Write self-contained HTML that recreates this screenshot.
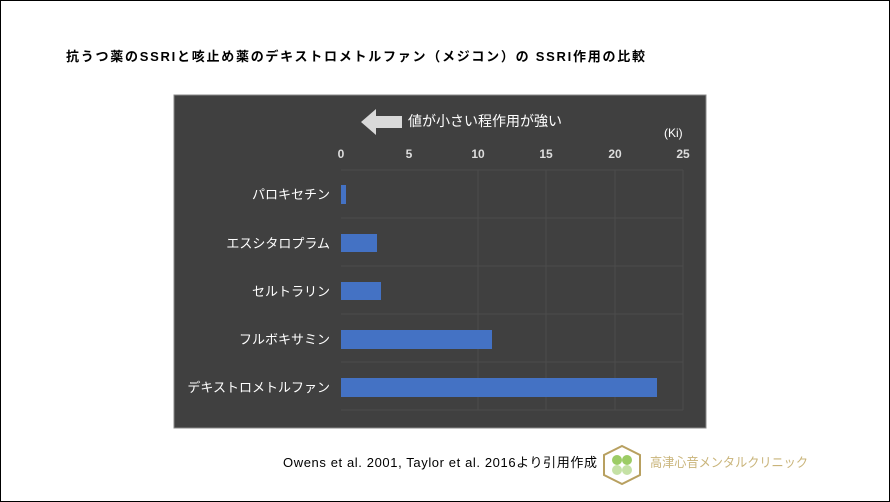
<!DOCTYPE html>
<html><head><meta charset="utf-8"><style>
body{margin:0;width:890px;height:502px;background:#fff;font-family:"Liberation Sans","Noto Sans CJK JP",sans-serif;overflow:hidden}
.frame{position:absolute;left:0;top:0;width:888px;height:500px;border:1px solid #000}
</style></head><body>
<div class="frame"></div>
<svg width="890" height="502" style="position:absolute;left:0;top:0" font-family="Liberation Sans, Noto Sans CJK JP, sans-serif">
<text x="66" y="61" font-size="13" font-weight="bold" fill="#000" textLength="579" lengthAdjust="spacing">抗うつ薬のSSRIと咳止め薬のデキストロメトルファン（メジコン）の  SSRI作用の比較</text>
<rect x="174" y="95" width="532" height="333" fill="#404040" stroke="#888" stroke-width="1"/>
<polygon points="361,122 376,109 376,116 402,116 402,128 376,128 376,135" fill="#d9d9d9"/>
<text x="408" y="126" font-size="14" fill="#fff">値が小さい程作用が強い</text>
<text x="664" y="137" font-size="12" fill="#fff">(Ki)</text>
<g font-size="12" fill="#ddd" font-weight="bold" text-anchor="middle">
<text x="341" y="158">0</text><text x="409" y="158">5</text><text x="478" y="158">10</text><text x="546" y="158">15</text><text x="615" y="158">20</text><text x="683" y="158">25</text>
</g>
<g stroke="#4c4c4c" stroke-width="1">
<line x1="478" y1="170" x2="478" y2="410"/><line x1="546" y1="170" x2="546" y2="410"/><line x1="615" y1="170" x2="615" y2="410"/><line x1="683" y1="170" x2="683" y2="410"/>
<line x1="341" y1="170" x2="683" y2="170"/><line x1="341" y1="218" x2="683" y2="218"/><line x1="341" y1="266" x2="683" y2="266"/><line x1="341" y1="314" x2="683" y2="314"/><line x1="341" y1="362" x2="683" y2="362"/><line x1="341" y1="410" x2="683" y2="410"/>
</g>
<g fill="#4472c4">
<rect x="341" y="185" width="5" height="19"/>
<rect x="341" y="234" width="36" height="18"/>
<rect x="341" y="282" width="40" height="18"/>
<rect x="341" y="330" width="151" height="19"/>
<rect x="341" y="378" width="316" height="19"/>
</g>
<g font-size="13" fill="#fff" text-anchor="end">
<text x="330" y="199">パロキセチン</text>
<text x="330" y="248">エスシタロプラム</text>
<text x="330" y="296">セルトラリン</text>
<text x="330" y="344">フルボキサミン</text>
<text x="330" y="392">デキストロメトルファン</text>
</g>
<text x="283" y="467" font-size="13" fill="#000" textLength="314" lengthAdjust="spacing">Owens et al. 2001, Taylor et al. 2016より引用作成</text>
<polygon points="622,446 640,455 640,475 622,484 604,475 604,455" fill="none" stroke="#b8a060" stroke-width="2"/>
<circle cx="617" cy="460" r="5" fill="#9ccc65"/><circle cx="627" cy="460" r="5" fill="#9ccc65"/><circle cx="617" cy="470" r="5" fill="#c5e1a5"/><circle cx="627" cy="470" r="5" fill="#c5e1a5"/>
<text x="650" y="467" font-size="13" fill="#c9b47a" textLength="158" lengthAdjust="spacingAndGlyphs">高津心音メンタルクリニック</text>
</svg>
</body></html>
